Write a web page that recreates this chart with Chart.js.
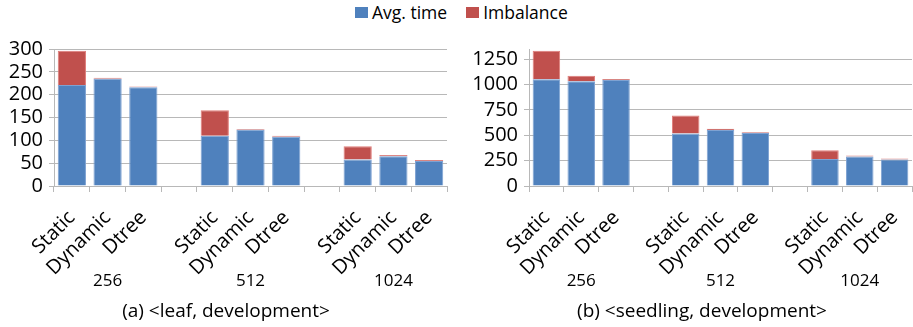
<!DOCTYPE html>
<html>
<head>
<meta charset="utf-8">
<script src="https://cdn.jsdelivr.net/npm/chart.js@4/dist/chart.umd.min.js"></script>
<style>
  body { margin: 0; width: 913px; height: 327px; position: relative; background: #fff; overflow: hidden; font-family: 'Open Sans', sans-serif; color: #000; }
  .panel { position: absolute; top: 20px; height: 307px; }
  #leftWrap { left: 0; width: 450px; }
  #rightWrap { left: 460px; width: 453px; }
  .legend { position: absolute; top: 0; left: 355px; display: flex; align-items: center; font-size: 17.5px; line-height: 24px; }
  .legend span.box { display: inline-block; width: 13px; height: 11px; margin-right: 4px; }
  .legend .item { display: flex; align-items: center; margin-right: 19px; }
  .caption { position: absolute; top: 297px; font-size: 19px; line-height: 26px; transform: translateX(-50%); white-space: nowrap; }
</style>
</head>
<body>
<div class="legend">
  <div class="item"><span class="box" style="background:#4F81BD"></span>Avg. time</div>
  <div class="item"><span class="box" style="background:#C0504D"></span>Imbalance</div>
</div>
<div class="panel" id="leftWrap"><canvas id="leftChart"></canvas></div>
<div class="panel" id="rightWrap"><canvas id="rightChart"></canvas></div>
<div class="caption" style="left:226px">(a) &lt;leaf, development&gt;</div>
<div class="caption" style="left:702px">(b) &lt;seedling, development&gt;</div>
<script>
// categories (empty slots are the gaps between groups)
const categories = ['Static', 'Dynamic', 'Dtree', '', 'Static', 'Dynamic', 'Dtree', '', 'Static', 'Dynamic', 'Dtree'];
const groupLabels = ['256', '512', '1024'];
const groupCenters = [1, 5, 9];

// (a) <leaf, development>
const leafAvg = [221, 235, 216, null, 110, 123, 108, null, 58, 65, 55];
const leafImb = [75, 2, 2, null, 56, 2, 2, null, 29, 3, 2];
const leafTicks = [0, 50, 100, 150, 200, 250, 300];
const leafMax = 300;

// (b) <seedling, development>
const seedAvg = [1053, 1033, 1045, null, 517, 553, 523, null, 267, 290, 260];
const seedImb = [279, 53, 10, null, 178, 10, 7, null, 85, 10, 10];
const seedTicks = [0, 250, 500, 750, 1000, 1250];
const seedMax = 1350;

const BLUE = '#4F81BD';
const RED = '#C0504D';
const GRID = '#b8b8b8';
const FONT = "'Open Sans', sans-serif";

// draws 256 / 512 / 1024 under each group
const groupLabelPlugin = {
    id: 'groupLabels',
    afterDraw(chart) {
        const ctx = chart.ctx;
        const x = chart.scales.x;
        ctx.save();
        ctx.font = '17px ' + FONT;
        ctx.fillStyle = '#000';
        ctx.textAlign = 'center';
        ctx.textBaseline = 'middle';
        groupLabels.forEach((g, i) => {
            ctx.fillText(g, x.getPixelForValue(groupCenters[i]), 261);
        });
        ctx.restore();
    }
};

function makeChart(id, avg, imb, ticks, max, yWidth, padRight) {
    const ctx = document.getElementById(id).getContext('2d');
    return new Chart(ctx, {
        type: 'bar',
        data: {
            labels: categories,
            datasets: [
                { label: 'Avg. time', data: avg, backgroundColor: BLUE, borderColor: '#7EA2D2', borderWidth: 1, stack: 's' },
                { label: 'Imbalance', data: imb, backgroundColor: RED, borderColor: '#E07C79', borderWidth: 1, stack: 's' }
            ]
        },
        options: {
            responsive: true,
            maintainAspectRatio: false,
            animation: false,
            events: [],
            categoryPercentage: 1,
            barPercentage: 0.79,
            layout: { padding: { top: 29, left: 0, right: padRight, bottom: 0 } },
            plugins: { legend: { display: false }, tooltip: { enabled: false } },
            scales: {
                x: {
                    stacked: true,
                    offset: true,
                    grid: { display: true, drawOnChartArea: false, drawTicks: true, tickLength: 6, color: GRID, offset: true },
                    border: { display: true, color: GRID },
                    ticks: { autoSkip: false, maxRotation: 45, minRotation: 45, color: '#000', font: { family: FONT, size: 20 }, padding: 14 },
                    afterFit(scale) {
                        scale.height = 141;
                        scale.paddingLeft = 0;
                        scale.paddingRight = 0;
                    }
                },
                y: {
                    stacked: true,
                    min: 0,
                    max: max,
                    grid: { color: GRID, tickLength: 5 },
                    border: { display: true, color: GRID },
                    ticks: {
                        autoSkip: false,
                        color: '#000',
                        font: { family: FONT, size: 20 },
                        padding: 6,
                        callback: v => String(v)
                    },
                    afterBuildTicks(scale) {
                        scale.ticks = ticks.map(v => ({ value: v }));
                    },
                    afterFit(scale) {
                        scale.width = yWidth;
                        scale.paddingTop = 0;
                        scale.paddingBottom = 0;
                    }
                }
            }
        },
        plugins: [groupLabelPlugin]
    });
}

makeChart('leftChart', leafAvg, leafImb, leafTicks, leafMax, 54, 3);
makeChart('rightChart', seedAvg, seedImb, seedTicks, seedMax, 69, 1);
</script>
</body>
</html>
